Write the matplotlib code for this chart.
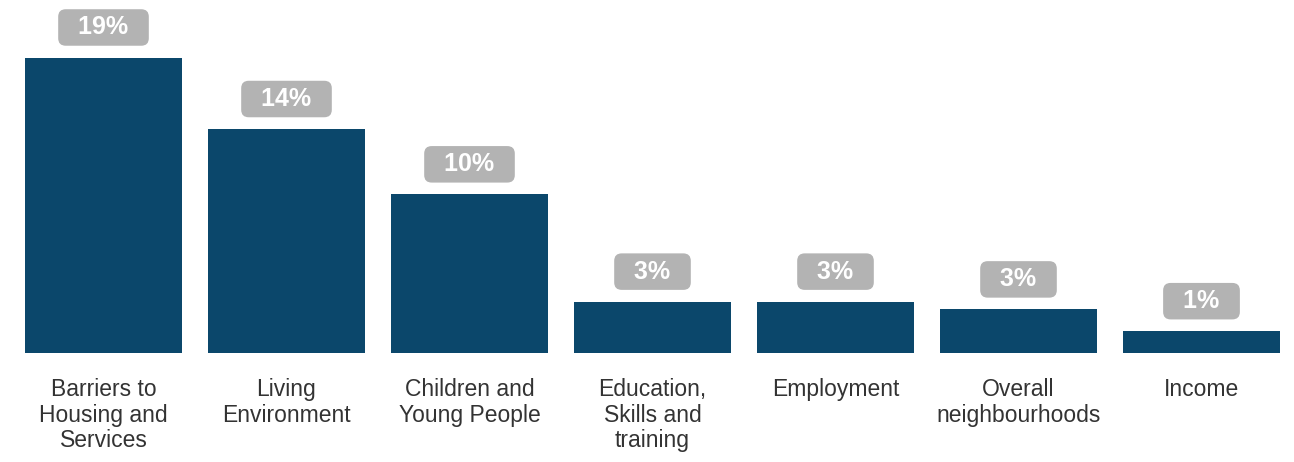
import matplotlib.pyplot as plt
import numpy as np

categories = ["Barriers to\nHousing and\nServices", "Living\nEnvironment",
              "Children and\nYoung People", "Education,\nSkills and\ntraining",
              "Employment", "Overall\nneighbourhoods", "Income"]
values = [19.0, 14.4, 10.2, 3.3, 3.3, 2.8, 1.4]
labels = ["19%", "14%", "10%", "3%", "3%", "3%", "1%"]

plt.rcParams['font.family'] = ['Liberation Sans', 'DejaVu Sans']

fig = plt.figure(figsize=(12.94, 4.62), dpi=100)
ax = fig.add_axes([12/1294, 109/462, 1281/1294, 353/462])

x = np.arange(len(categories))
bars = ax.bar(x, values, width=0.858, color="#0b476b")

for xi, v, lab in zip(x, values, labels):
    ax.annotate("  " + lab + "  ", (xi, v), xytext=(0, 13), textcoords="offset points",
                ha="center", va="bottom", fontsize=18, fontweight="bold", color="white",
                bbox=dict(boxstyle="round,pad=0.25,rounding_size=0.3", fc="#b3b3b3", ec="none"))

ax.set_xlim(-0.5, len(categories) - 0.5)
ax.set_ylim(0, 22.7)
ax.set_xticks(x)
ax.set_xticklabels(categories, fontsize=16.5, color="#333333", linespacing=1.15)
ax.tick_params(axis="x", length=0, pad=18)
ax.set_yticks([])
for s in ax.spines.values():
    s.set_visible(False)

fig.savefig("out.png", dpi=100)
